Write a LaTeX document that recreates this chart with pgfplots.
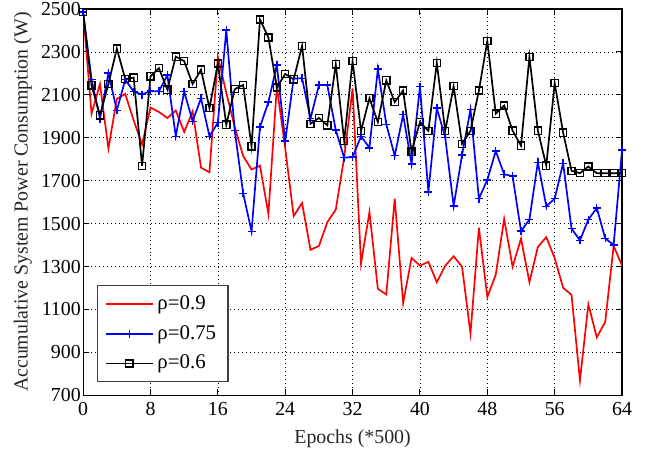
\documentclass[border=0pt]{standalone}
\usepackage{fontspec}
\setmainfont{Liberation Serif}
\usepackage{pgfplots}
\pgfplotsset{compat=1.18}
\usepackage{pgfplotstable}

\pgfplotstableread{
e r b k
0 2485 2485 2485
1 2012 2171 2144
2 2150 1989 2004
3 1850 2201 2150
4 2081 2027 2315
5 2104 2171 2174
6 1981 2115 2180
7 1869 2101 1769
8 2041 2118 2186
9 2020 2116 2224
10 1992 2192 2124
11 2027 1907 2278
12 1927 2115 2257
13 2023 1977 2150
14 1761 2084 2217
15 1739 1907 2038
16 2278 1970 2246
17 2110 2401 1961
18 1950 1935 2126
19 1815 1641 2146
20 1752 1464 1860
21 1770 1950 2451
22 1545 2066 2367
23 2138 2238 2134
24 1850 1885 2197
25 1535 2176 2172
26 1596 2177 2328
27 1378 1989 1965
28 1396 2145 1992
29 1507 2145 1958
30 1565 1936 2242
31 1808 1807 1885
32 2130 1810 2257
33 1314 1907 1932
34 1554 1853 2084
35 1196 2220 1973
36 1170 1963 2167
37 1616 1816 2066
38 1130 2007 2120
39 1340 1778 1835
40 1304 2138 1973
41 1322 1647 1932
42 1227 2038 2249
43 1304 1901 1932
44 1348 1582 2140
45 1299 1820 1872
46 988 2032 1932
47 1481 1616 2120
48 1158 1704 2351
49 1262 1838 2012
50 1522 1730 2050
51 1299 1721 1933
52 1430 1465 1863
53 1227 1519 2277
54 1391 1786 1933
55 1437 1581 1770
56 1339 1616 2154
57 1201 1781 1924
58 1168 1477 1746
59 770 1422 1735
60 1124 1519 1766
61 970 1573 1735
62 1042 1431 1735
63 1396 1401 1735
64 1304 1843 1735
}\datatable

\begin{document}
\begin{tikzpicture}
\begin{axis}[
  scale only axis, width=271.25pt, height=194.5pt,
  xmin=0, xmax=64, ymin=700, ymax=2500,
  xtick={0,8,16,24,32,40,48,56,64},
  xticklabels={0,8,16,24,32,40,48,56,64},
  ytick={700,900,1100,1300,1500,1700,1900,2100,2300,2500},
  yticklabels={700,900,1100,1300,1500,1700,1900,2100,2300,2500},
  grid=major,
  major grid style={black, line width=0.35pt, dash pattern=on 0.4pt off 1.6pt},
  tick align=inside, major tick length=3pt,
  axis line style={black, line width=0.6pt},
  tick style={black, line width=0.5pt},
  xlabel={Epochs (*500)},
  ylabel={Accumulative System Power Consumption (W)},
  label style={font=\fontsize{10}{12}\selectfont, text=black!85},
  tick label style={font=\fontsize{10}{12}\selectfont},
  yticklabel style={inner sep=1pt},
  legend cell align=left,
  legend style={at={(0,0)}, anchor=south west, xshift=6.75pt, yshift=6.5pt,
    draw=black!75, line width=0.6pt, fill=white,
    font=\fontsize{10.5}{12}\selectfont, row sep=2.5pt, inner xsep=4pt, inner ysep=3pt},
  legend image code/.code={\draw[mark repeat=2,mark phase=2] plot coordinates {(0pt,0pt) (11.75pt,0pt) (23.5pt,0pt)};},
]
\addplot[red, line width=0.85pt, mark=none] table[x=e, y=r] {\datatable};
\addlegendentry{ρ=0.9}
\addplot[blue, line width=0.85pt, mark=+, mark size=2pt, mark options={solid, line width=0.7pt}] table[x=e, y=b] {\datatable};
\addlegendentry{ρ=0.75}
\addplot[black, line width=0.85pt, mark=square, mark size=1.8pt, mark options={solid, line width=0.65pt}] table[x=e, y=k] {\datatable};
\addlegendentry{ρ=0.6}
\end{axis}
\pgfresetboundingbox
\path[use as bounding box] (-41.85pt,-28pt) rectangle (290.35pt,199pt);
\end{tikzpicture}
\end{document}
